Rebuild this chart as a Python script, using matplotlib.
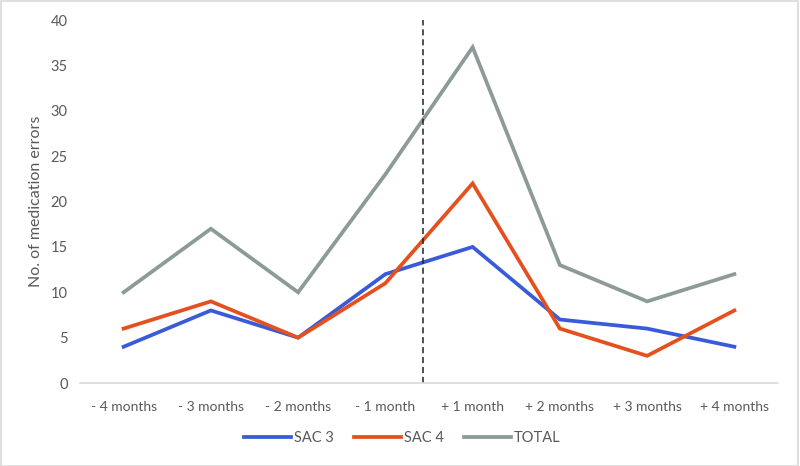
import matplotlib.pyplot as plt
from matplotlib.patches import Rectangle

# data
months = ['- 4 months', '- 3 months', '- 2 months', '- 1 month',
          '+ 1 month', '+ 2 months', '+ 3 months', '+ 4 months']
sac3 = [4, 8, 5, 12, 15, 7, 6, 4]
sac4 = [6, 9, 5, 11, 22, 6, 3, 8]
total = [10, 17, 10, 23, 37, 13, 9, 12]
intervention_pos = 3.43  # dashed line between -1 and +1 month

plt.rcParams['font.family'] = ['Lato', 'DejaVu Sans']

fig = plt.figure(figsize=(8, 4.66), dpi=100)
ax = fig.add_axes([0.1, 0.178, 0.8725, 0.779])

x = list(range(len(months)))
ax.plot(x, sac3, color='#3a5bd9', lw=2.7, label='SAC 3', solid_joinstyle='miter')
ax.plot(x, sac4, color='#e5501f', lw=2.7, label='SAC 4', solid_joinstyle='miter')
ax.plot(x, total, color='#8c9a98', lw=2.7, label='TOTAL', solid_joinstyle='miter')
ax.axvline(intervention_pos, color='#222222', lw=1.1, ls=(0, (4, 2.5)))

ax.set_xlim(-0.5, len(months) - 0.5)
ax.set_ylim(0, 40)
ax.set_yticks(range(0, 41, 5))
ax.set_xticks(x)
ax.set_xticklabels(months)
ax.tick_params(axis='both', length=0, labelsize=10.5, colors='#595959')
ax.tick_params(axis='x', labelsize=10)
ax.tick_params(axis='y', pad=9)
ax.tick_params(axis='x', pad=13)
for side in ['top', 'right', 'left']:
    ax.spines[side].set_visible(False)
ax.spines['bottom'].set_color('#d9d9d9')
ax.spines['bottom'].set_linewidth(1.2)

ax.set_ylabel('No. of medication errors', fontsize=11.5, color='#595959', labelpad=5)

fig.legend(loc='center', bbox_to_anchor=(0.503, 0.06), ncol=3, frameon=False,
           fontsize=10.5, labelcolor='#595959', handlelength=3.2,
           handletextpad=0.2, columnspacing=1.4)

fig.patches.append(Rectangle((0.001, 0.001), 0.997, 0.997, transform=fig.transFigure,
                             fill=False, edgecolor='#d9d9d9', lw=1.2))

fig.savefig('out.png', dpi=100)
